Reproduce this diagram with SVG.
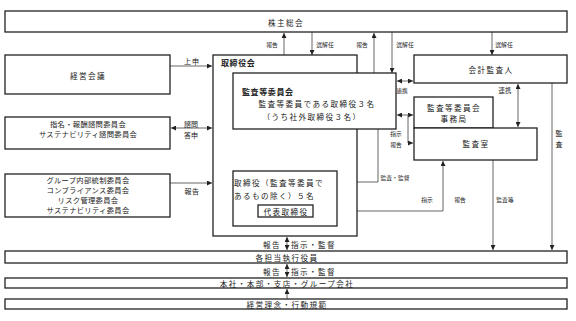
<svg xmlns="http://www.w3.org/2000/svg" width="576" height="321" viewBox="0 0 576 321">
<defs>
<style>
text{font-family:"Noto Sans CJK JP","Noto Sans CJK SC",sans-serif;fill:#222;dominant-baseline:central}
.box{fill:#fff;stroke:#222;stroke-width:1.3}
.t{font-size:7.6px;letter-spacing:1.4px;text-anchor:middle}
.tl{font-size:7.6px;letter-spacing:1.4px}
.s{font-size:7.3px;letter-spacing:0.3px;text-anchor:middle}
.b{font-size:8px;font-weight:bold;letter-spacing:0.6px}
.lab{font-size:5.8px;text-anchor:middle}
.c{fill:none;stroke:#555;stroke-width:0.9}
</style>
<marker id="ah" viewBox="0 0 6 6" refX="6" refY="3" markerWidth="5" markerHeight="5" markerUnits="userSpaceOnUse" orient="auto-start-reverse">
<path d="M0,0 L6,3 L0,6 Z" fill="#222"/>
</marker>
</defs>
<rect width="576" height="321" fill="#fff"/>

<g id="connectors">
<line class="c" x1="170" y1="66" x2="212" y2="66" marker-end="url(#ah)"/>
<line class="c" x1="171" y1="128" x2="212" y2="128" marker-start="url(#ah)" marker-end="url(#ah)"/>
<line class="c" x1="170" y1="183" x2="212" y2="183" marker-end="url(#ah)"/>
<line class="c" x1="284" y1="55" x2="284" y2="33" marker-end="url(#ah)"/>
<line class="c" x1="312" y1="32" x2="312" y2="55" marker-end="url(#ah)"/>
<line class="c" x1="374" y1="73" x2="374" y2="33" marker-end="url(#ah)"/>
<line class="c" x1="392" y1="32" x2="392" y2="73" marker-end="url(#ah)"/>
<line class="c" x1="492" y1="32" x2="492" y2="55" marker-end="url(#ah)"/>
<line class="c" x1="397" y1="81" x2="413" y2="81" marker-start="url(#ah)" marker-end="url(#ah)"/>
<line class="c" x1="397" y1="115" x2="413" y2="115" marker-start="url(#ah)" marker-end="url(#ah)"/>
<polyline class="c" points="408,115 408,143 413,143" marker-end="url(#ah)"/>
<line class="c" x1="518" y1="84" x2="518" y2="127" marker-start="url(#ah)" marker-end="url(#ah)"/>
<polyline class="c" points="378,129 378,182 338,182" marker-end="url(#ah)"/>
<polyline class="c" points="443,161 443,211 314,211" marker-start="url(#ah)" marker-end="url(#ah)"/>
<line class="c" x1="493" y1="160" x2="493" y2="250" marker-end="url(#ah)"/>
<line class="c" x1="552" y1="83" x2="552" y2="250" marker-end="url(#ah)"/>
<line class="c" x1="287" y1="237" x2="287" y2="250" marker-start="url(#ah)" marker-end="url(#ah)"/>
<line class="c" x1="287" y1="264" x2="287" y2="277" marker-start="url(#ah)" marker-end="url(#ah)"/>
<line class="c" x1="287" y1="299" x2="287" y2="289" marker-end="url(#ah)"/>
<text class="lab" x="192" y="61" style="font-size:7px;letter-spacing:1px">上申</text>
<text class="lab" x="191" y="124" style="font-size:7px">諮問</text>
<text class="lab" x="191" y="135" style="font-size:7px">答申</text>
<text class="lab" x="192" y="191" style="font-size:7px;letter-spacing:0.5px">報告</text>
<text class="lab" x="272" y="44">報告</text>
<text class="lab" x="325" y="44">選解任</text>
<text class="lab" x="362" y="44">報告</text>
<text class="lab" x="405" y="44">選解任</text>
<text class="lab" x="504" y="44">選解任</text>
<text class="lab" x="402" y="90">連携</text>
<text class="lab" x="505" y="90" style="font-size:6.4px">連携</text>
<text class="lab" x="396" y="133">指示</text>
<text class="lab" x="396" y="144">報告</text>
<text class="lab" x="395" y="177">監査・監督</text>
<text class="lab" x="427" y="199">指示</text>
<text class="lab" x="460" y="199">報告</text>
<text class="lab" x="505" y="199">監査等</text>
<text class="lab" x="559" y="133" style="font-size:7px">監</text>
<text class="lab" x="559" y="144" style="font-size:7px">査</text>
<text class="lab" x="272" y="244" style="font-size:7.6px;letter-spacing:1.4px">報告</text>
<text class="tl" x="291" y="244">指示・監督</text>
<text class="lab" x="272" y="271" style="font-size:7.6px;letter-spacing:1.4px">報告</text>
<text class="tl" x="291" y="271">指示・監督</text>
</g>

<g id="kabunushi">
<rect class="box" x="5" y="11" width="562" height="21"/>
<text class="t" x="286" y="22">株主総会</text>
</g>

<g id="keiei">
<rect class="box" x="5" y="55" width="165" height="39"/>
<text class="t" x="88" y="75">経営会議</text>
</g>

<g id="shimei">
<rect class="box" x="5" y="117" width="165" height="32"/>
<text class="s" x="88" y="124">指名・報酬諮問委員会</text>
<text class="s" x="88" y="134">サステナビリティ諮問委員会</text>
</g>

<g id="group">
<rect class="box" x="5" y="174" width="165" height="43"/>
<text class="s" x="88" y="180">グループ内部統制委員会</text>
<text class="s" x="88" y="190">コンプライアンス委員会</text>
<text class="s" x="88" y="200">リスク管理委員会</text>
<text class="s" x="88" y="210">サステナビリティ委員会</text>
</g>

<g id="torishimariyakukai">
<rect class="box" x="213" y="55" width="144" height="181"/>
<text class="b" x="221" y="62">取締役会</text>
</g>

<g id="kansatouiinkai">
<rect class="box" x="233" y="73" width="163" height="56"/>
<text class="b" x="242" y="91">監査等委員会</text>
<text class="t" x="317" y="103">監査等委員である取締役３名</text>
<text class="t" x="312" y="116">（うち社外取締役３名）</text>
</g>

<g id="torishimariyaku">
<rect class="box" x="233" y="171" width="104" height="55"/>
<text class="tl" x="234" y="182">取締役（監査等委員で</text>
<text class="tl" x="234" y="195">あるもの除く）５名</text>
</g>

<g id="daihyou">
<rect class="box" x="258" y="205" width="55" height="12"/>
<text class="t" x="286" y="211">代表取締役</text>
</g>

<g id="kaikei">
<rect class="box" x="414" y="55" width="153" height="28"/>
<text class="t" x="491" y="69">会計監査人</text>
</g>

<g id="jimukyoku">
<rect class="box" x="414" y="97" width="79" height="31"/>
<text class="t" x="454" y="107">監査等委員会</text>
<text class="t" x="454" y="118">事務局</text>
</g>

<g id="kansashitsu">
<rect class="box" x="414" y="128" width="123" height="32"/>
<text class="t" x="476" y="143">監査室</text>
</g>

<g id="shikkou">
<rect class="box" x="5" y="251" width="562" height="12"/>
<text class="t" x="287" y="257">各担当執行役員</text>
</g>

<g id="honsha">
<rect class="box" x="5" y="278" width="562" height="10"/>
<text class="t" x="287" y="283">本社・本部・支店・グループ会社</text>
</g>

<g id="rinen">
<rect class="box" x="5" y="299" width="562" height="10"/>
<text class="t" x="287" y="304">経営理念・行動規範</text>
</g>
</svg>
